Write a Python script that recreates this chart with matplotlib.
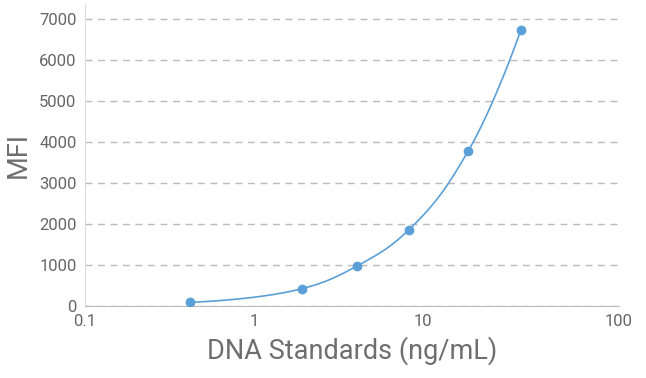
import matplotlib
matplotlib.use("Agg")
import matplotlib.pyplot as plt
import numpy as np

conc = [0.42, 1.92, 4.07, 8.26, 18.5, 38.0]
mfi = [90, 422, 976, 1861, 3780, 6740]
x_ticks = [0.1, 1, 10]
x_tick_labels = ["0.1", "1", "10", "100"]
y_ticks = [0, 1000, 2000, 3000, 4000, 5000, 6000, 7000]

line_color = "#5B9FD8"
tick_color = "#666666"
label_color = "#6E6E6E"

plt.rcParams['font.family'] = ['Roboto', 'DejaVu Sans']

# pixel scale of the plot area, used to smooth the curve like the original
PX_PER_DECADE = 169.0
PX_PER_UNIT = 41.0 / 1000


def smooth_curve(xs, ys, smoothing=1.5, n=40):
    px = np.log10(xs) * PX_PER_DECADE
    py = np.asarray(ys, float) * PX_PER_UNIT
    k = len(px)
    lc = [(px[i], py[i]) for i in range(k)]
    rc = [(px[i], py[i]) for i in range(k)]
    denom = smoothing + 1
    for i in range(1, k - 1):
        x, y = px[i], py[i]
        lx = (smoothing * x + px[i - 1]) / denom
        ly = (smoothing * y + py[i - 1]) / denom
        rx = (smoothing * x + px[i + 1]) / denom
        ry = (smoothing * y + py[i + 1]) / denom
        dl = np.hypot(lx - x, ly - y)
        dr = np.hypot(rx - x, ry - y)
        la = np.arctan2(ly - y, lx - x)
        ra = np.arctan2(ry - y, rx - x)
        ja = np.pi / 2 + (la + ra) / 2
        if abs(la - ja) > np.pi / 2:
            ja -= np.pi
        lx, ly = x + np.cos(ja) * dl, y + np.sin(ja) * dl
        rx, ry = x + np.cos(np.pi + ja) * dr, y + np.sin(np.pi + ja) * dr
        if ly > py[i - 1] and ly > y:
            ly = max(py[i - 1], y); ry = 2 * y - ly
        elif ly < py[i - 1] and ly < y:
            ly = min(py[i - 1], y); ry = 2 * y - ly
        if ry > py[i + 1] and ry > y:
            ry = max(py[i + 1], y); ly = 2 * y - ry
        elif ry < py[i + 1] and ry < y:
            ry = min(py[i + 1], y); ly = 2 * y - ry
        lc[i] = (lx, ly)
        rc[i] = (rx, ry)
    t = np.linspace(0, 1, n)[:, None]
    out = []
    for i in range(k - 1):
        p0 = np.array([px[i], py[i]])
        p1 = np.array(rc[i])
        p2 = np.array(lc[i + 1])
        p3 = np.array([px[i + 1], py[i + 1]])
        seg = (1 - t) ** 3 * p0 + 3 * (1 - t) ** 2 * t * p1 + 3 * (1 - t) * t ** 2 * p2 + t ** 3 * p3
        out.append(seg)
    out = np.vstack(out)
    return 10 ** (out[:, 0] / PX_PER_DECADE), out[:, 1] / PX_PER_UNIT


fig = plt.figure(figsize=(6.46, 3.78), dpi=100)
ax = fig.add_axes([85 / 646, 72 / 378, 534 / 646, 302 / 378])

cx, cy = smooth_curve(conc, mfi)
ax.plot(cx, cy, color=line_color, lw=1.2, zorder=3)
ax.plot(conc, mfi, 'o', color=line_color, markersize=6, zorder=4)

ax.set_xscale('log')
x_max = 10 ** 2.16
ax.set_xlim(0.1, x_max)
ax.set_xticks(x_ticks + [x_max])
ax.set_xticklabels(x_tick_labels)
ax.minorticks_off()
ax.set_ylim(0, 7370)
ax.set_yticks(y_ticks)
ax.yaxis.grid(True, linestyle=(0, (5, 4)), color='#BBBBBB', lw=1)
ax.set_axisbelow(True)

for s in ['top', 'right']:
    ax.spines[s].set_visible(False)
ax.spines['left'].set_color('#DDDDDD')
ax.spines['bottom'].set_color('#BBBBBB')
ax.tick_params(length=0, labelsize=12, labelcolor=tick_color, pad=6)

ax.set_xlabel('DNA Standards (ng/mL)', fontsize=19.5, color=label_color, labelpad=5)
ax.set_ylabel('MFI', fontsize=19.5, color=label_color, labelpad=5)

fig.savefig('out.png', dpi=100)
